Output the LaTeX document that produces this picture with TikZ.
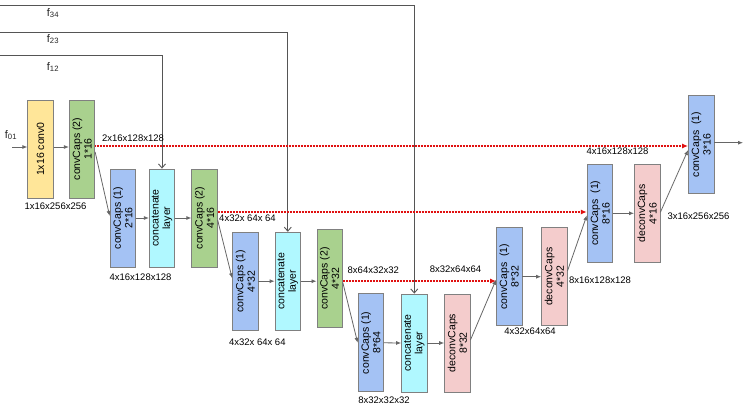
\documentclass[tikz,border=0pt]{standalone}
\usepackage{fontspec}
\setmainfont{Liberation Sans}
\usetikzlibrary{arrows.meta,calc}
\definecolor{cyel}{HTML}{FFE699}
\definecolor{cgrn}{HTML}{A9D18E}
\definecolor{cblu}{HTML}{A4C2F4}
\definecolor{ccya}{HTML}{B0F8FF}
\definecolor{cpnk}{HTML}{F4CCCC}
\definecolor{cbord}{HTML}{808080}
\definecolor{cflow}{HTML}{666666}
\definecolor{cfeed}{HTML}{555555}
\definecolor{cred}{HTML}{E01010}
\begin{document}
\begin{tikzpicture}[x=1pt,y=-1pt,
  box/.style={draw=cbord, line width=0.8pt, minimum width=25.5pt, minimum height=98pt, inner sep=0pt},
  btxt/.style={rotate=90, align=center, font=\fontsize{10.5}{11.5}\selectfont, inner sep=0pt},
  dim/.style={font=\fontsize{9.5}{11}\selectfont, inner sep=0pt},
  flab/.style={font=\fontsize{11}{13}\selectfont, inner sep=0pt, text=black!85},
  flow/.style={draw=cflow, line width=0.8pt, -{Latex[length=5pt,width=4pt]}},
  skipl/.style={draw=cred, line width=1.2pt, dash pattern=on 1pt off 0.5pt, -{Latex[length=6pt,width=5pt,fill=cred]}},
  feed/.style={draw=cfeed, line width=0.9pt, -{Straight Barb[length=4pt,width=7pt]}}
]
\useasboundingbox (0,0) rectangle (749,409);

% boxes
\node[box, fill=cyel] (conv0) at (40.5,149) {};
\node[btxt] (conv0t) at (conv0) {1x16 conv0};
\node[box, fill=cgrn] (g1) at (82,149) {};
\node[btxt] (g1t) at (g1) {convCaps (2)\\1*16};
\node[box, fill=cblu] (b1) at (122.8,218) {};
\node[btxt] (b1t) at (b1) {convCaps (1)\\2*16};
\node[box, fill=ccya] (c1) at (162,218) {};
\node[btxt] (c1t) at (c1) {concatenate\\layer};
\node[box, fill=cgrn] (g2) at (204.5,218) {};
\node[btxt] (g2t) at (g2) {convCaps (2)\\4*16};
\node[box, fill=cblu] (b2) at (245.3,281.2) {};
\node[btxt] (b2t) at (b2) {convCaps (1)\\4*32};
\node[box, fill=ccya] (c2) at (287.8,281.2) {};
\node[btxt] (c2t) at (c2) {concatenate\\layer};
\node[box, fill=cgrn] (g3) at (329.7,278.7) {};
\node[btxt] (g3t) at (g3) {convCaps (2)\\4*32};
\node[box, fill=cblu] (b3) at (370.8,342.8) {};
\node[btxt] (b3t) at (b3) {convCaps (1)\\8*64};
\node[box, fill=ccya] (c3) at (414.3,343) {};
\node[btxt] (c3t) at (c3) {concatenate\\layer};
\node[box, fill=cpnk] (p1) at (457.3,343) {};
\node[btxt] (p1t) at (p1) {deconvCaps\\8*32};
\node[box, fill=cblu] (b4) at (509.2,276.7) {};
\node[btxt] (b4t) at (b4) {convCaps\ \ (1)\\8*32};
\node[box, fill=cpnk] (p2) at (554.3,276.7) {};
\node[btxt] (p2t) at (p2) {deconvCaps\\4*32};
\node[box, fill=cblu] (b5) at (600,213.3) {};
\node[btxt] (b5t) at (b5) {convCaps\ \ (1)\\8*16};
\node[box, fill=cpnk] (p3) at (647.2,213.3) {};
\node[btxt] (p3t) at (p3) {deconvCaps\\4*16};
\node[box, fill=cblu] (b6) at (701.2,144.5) {};
\node[btxt] (b6t) at (b6) {convCaps\ \ (1)\\3*16};

% free ends
\coordinate (in) at (12,147);
\coordinate (out) at (743,142.7);
\coordinate (s12) at (0,55);
\coordinate (s23) at (0,32);
\coordinate (s34) at (0,5);

% feed lines
\draw[feed] (s12) -| (c1.north);
\draw[feed] (s23) -| (c2.north);
\draw[feed] (s34) -| (c3.north);

% flow arrows
\draw[flow] (in) -- (in -| conv0.west);
\draw[flow] ($(conv0.east)+(0,-2)$) -- ($(g1.west)+(0,-2)$);
\draw[flow] ($(g1.east)+(0,3)$) -- ($(b1.west)+(0,-2)$);
\draw[flow] (b1.east) -- (c1.west);
\draw[flow] (c1.east) -- (g2.west);
\draw[flow] ($(g2.east)+(0,2)$) -- ($(b2.west)+(0,-3)$);
\draw[flow] (b2.east) -- (c2.west);
\draw[flow] (c2.east) -- (c2.east -| g3.west);
\draw[flow] ($(g3.east)+(0,4)$) -- (b3.west);
\draw[flow] (b3.east) -- (c3.west);
\draw[flow] (c3.east) -- (p1.west);
\draw[flow] ($(p1.east)+(0,-3)$) -- ($(b4.west)+(0,3)$);
\draw[flow] (b4.east) -- (p2.west);
\draw[flow] ($(p2.east)+(0,-5.7)$) -- ($(b5.west)+(0,2)$);
\draw[flow] (b5.east) -- (p3.west);
\draw[flow] ($(p3.east)+(0,-1)$) -- ($(b6.west)+(0,5.5)$);
\draw[flow] ($(b6.east)+(0,-1.8)$) -- (out);

% skip connections
\draw[skipl] ($(g1.east)+(0,-3)$) -- ($(b6.west)+(0,1.5)$);
\draw[skipl] ($(g2.east)+(0,-6)$) -- ($(b5.west)+(0,-1.3)$);
\draw[skipl] ($(g3.east)+(0,2.3)$) -- ($(b4.west)+(0,4.3)$);

% f labels
\node[flab] (f34) at (53,13) {f\textsubscript{34}};
\node[flab] (f23) at (53,39) {f\textsubscript{23}};
\node[flab] (f12) at (53,67) {f\textsubscript{12}};
\node[flab] (f01) at (11,135) {f\textsubscript{01}};

% dimension labels
\node[dim] (d1) at (55.5,206) {1x16x256x256};
\node[dim] (d2) at (133,138) {2x16x128x128};
\node[dim] (d3) at (140.5,277) {4x16x128x128};
\node[dim] (d4) at (247.5,218.3) {4x32x 64x 64};
\node[dim] (d5) at (257.3,342.3) {4x32x 64x 64};
\node[dim] (d6) at (373.3,270.7) {8x64x32x32};
\node[dim] (d7) at (384,400) {8x32x32x32};
\node[dim] (d8) at (455.5,269.3) {8x32x64x64};
\node[dim] (d9) at (530,331.7) {4x32x64x64};
\node[dim] (d10) at (600,280) {8x16x128x128};
\node[dim] (d11) at (617.5,151.7) {4x16x128x128};
\node[dim] (d12) at (698.5,216) {3x16x256x256};
\end{tikzpicture}
\end{document}
